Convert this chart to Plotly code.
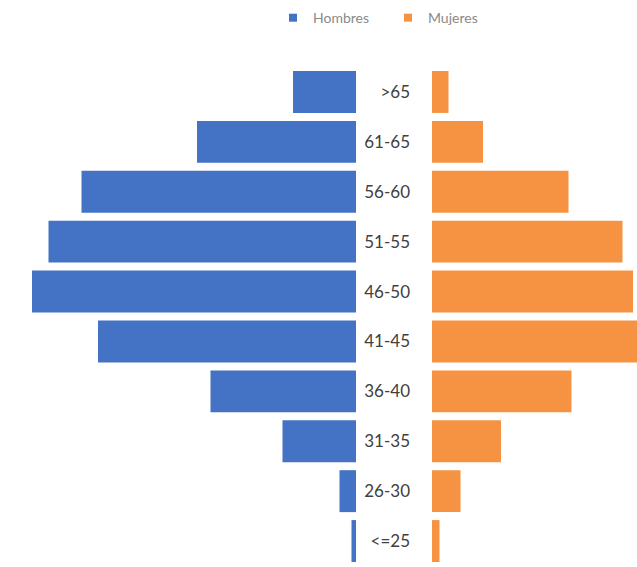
import plotly.graph_objects as go

categorias = ["<=25", "26-30", "31-35", "36-40", "41-45", "46-50", "51-55", "56-60", "61-65", ">65"]
hombres = [1.5, 5.5, 24.5, 48.5, 86, 108, 102.5, 91.5, 53, 21]
mujeres = [2.5, 9.5, 23, 46.5, 69, 67, 63.5, 45.5, 17, 5.5]

color_h = "#4472C4"
color_m = "#F59342"

W, H = 637, 567
px_per_unit = 3.0
left_end = 356
right_start = 432

fig = go.Figure()
fig.add_trace(go.Bar(
    y=categorias, x=hombres, orientation="h", name="Hombres",
    marker=dict(color=color_h, line=dict(width=0)),
    xaxis="x", yaxis="y", hoverinfo="x+y", showlegend=False,
))
fig.add_trace(go.Bar(
    y=categorias, x=mujeres, orientation="h", name="Mujeres",
    marker=dict(color=color_m, line=dict(width=0)),
    xaxis="x2", yaxis="y2", hoverinfo="x+y", showlegend=False,
))
# legend entries with small square markers
for nombre, col in [("Hombres", color_h), ("Mujeres", color_m)]:
    fig.add_trace(go.Scatter(
        x=[None], y=[None], mode="markers", name=nombre,
        marker=dict(symbol="square", size=8, color=col),
        xaxis="x2", yaxis="y2", showlegend=True,
    ))

fig.update_layout(
    width=W, height=H,
    margin=dict(l=0, r=0, t=67, b=1, pad=0),
    paper_bgcolor="white", plot_bgcolor="white",
    bargap=0.16,
    font=dict(family="Lato, Open Sans, sans-serif", size=17, color="#404040"),
    showlegend=True,
    legend=dict(
        orientation="h", x=273 / W, xanchor="left", y=1.098, yanchor="middle",
        font=dict(size=14, color="#8a8a8a"), itemwidth=30, tracegroupgap=0,
        entrywidth=70, entrywidthmode="pixels",
        bgcolor="rgba(0,0,0,0)",
    ),
    xaxis=dict(
        domain=[0, left_end / W], range=[left_end / px_per_unit, 0],
        showgrid=False, zeroline=False, showticklabels=False, showline=False,
    ),
    xaxis2=dict(
        domain=[right_start / W, 1], range=[0, (W - right_start) / px_per_unit],
        showgrid=False, zeroline=False, showticklabels=False, showline=False,
    ),
    yaxis=dict(
        anchor="x", type="category", categoryorder="array", categoryarray=categorias,
        showgrid=False, zeroline=False, showticklabels=False, showline=False,
    ),
    yaxis2=dict(
        anchor="x2", matches="y", type="category", categoryorder="array",
        categoryarray=categorias,
        showgrid=False, zeroline=False, showline=False, showticklabels=True,
        ticks="", ticklabelstandoff=21, tickfont=dict(size=17, color="#404040"),
    ),
)

fig.write_html(
    "out.html",
    config={"displayModeBar": False},
    post_script="document.body.style.margin='0';document.body.style.overflow='hidden';",
)
